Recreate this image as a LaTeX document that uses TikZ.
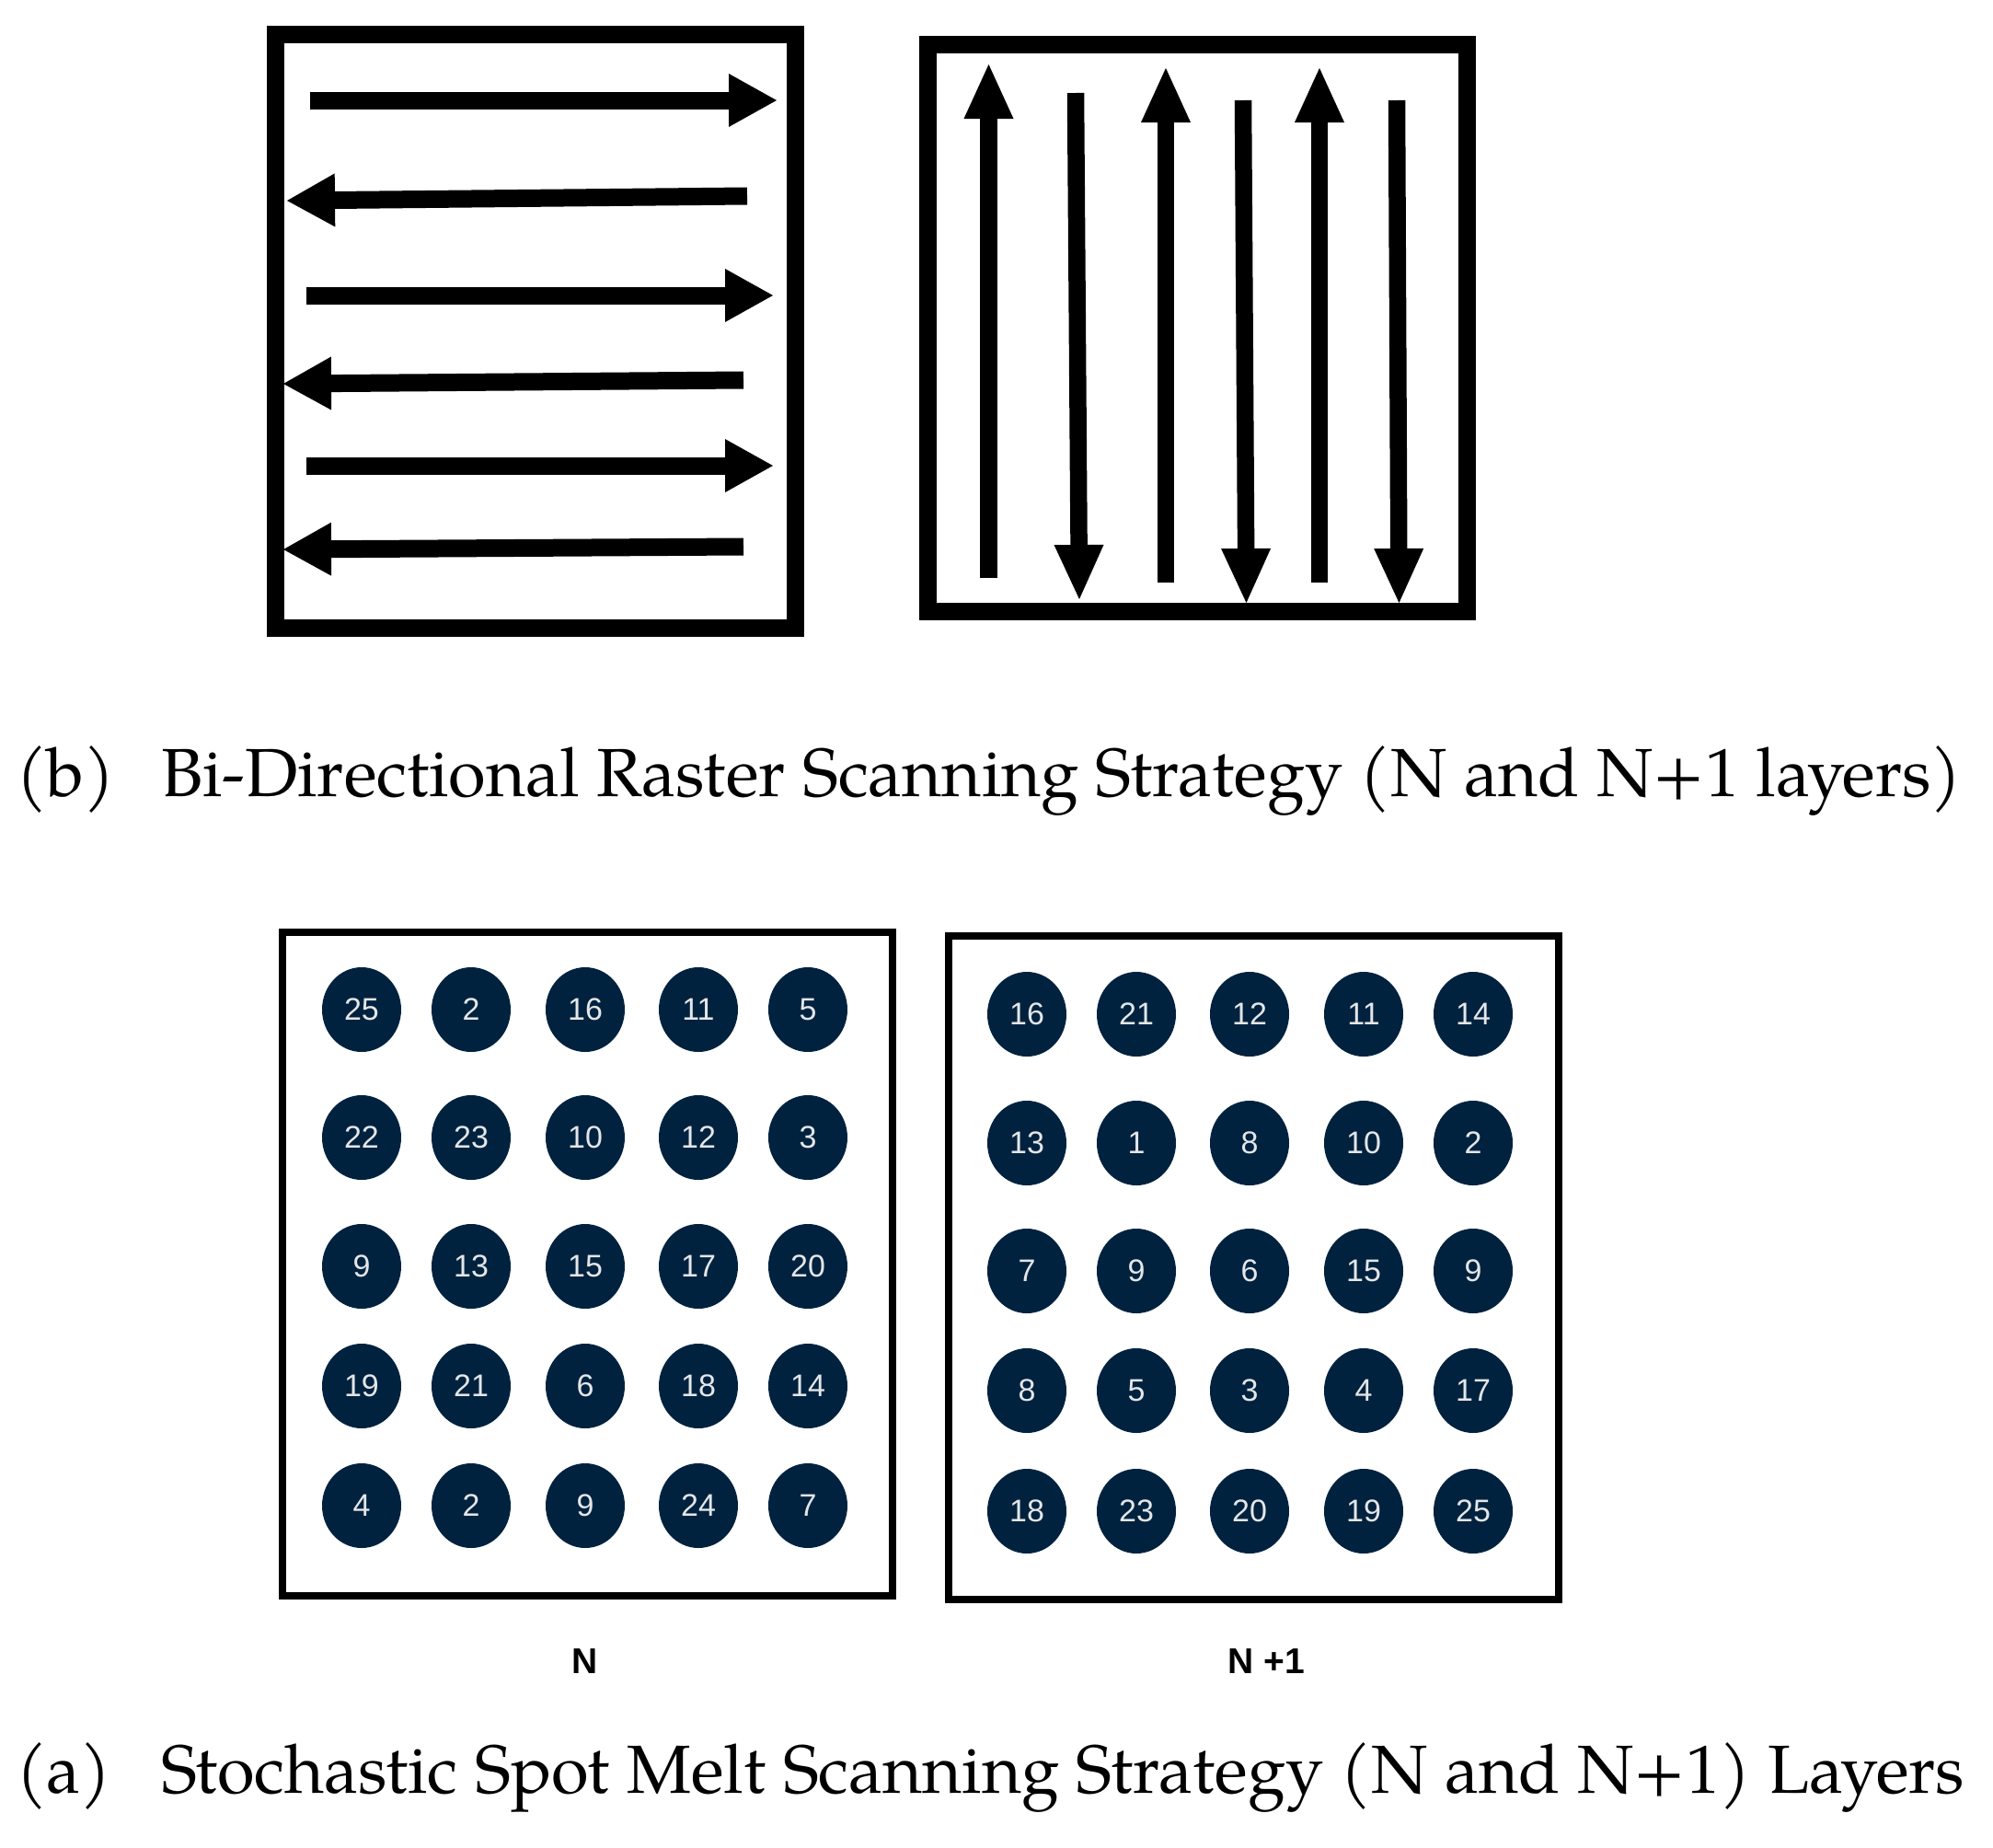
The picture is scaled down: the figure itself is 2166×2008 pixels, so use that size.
\documentclass[tikz,border=0pt]{standalone}
\usepackage{fontspec}
\setmainfont{TeX Gyre Pagella}
\newfontfamily\numfont{Liberation Sans}
\usetikzlibrary{calc,shapes.geometric}
\definecolor{spotnavy}{HTML}{00223F}
\definecolor{spottext}{HTML}{E4E6E8}
\tikzset{
  thickframe/.style={line width=19pt, draw=black},
  thinframe/.style={line width=8pt, draw=black},
  spot/.style={ellipse, fill=spotnavy, inner sep=0pt, minimum width=86pt, minimum height=92pt, text=spottext, font=\numfont\fontsize{34}{34}\selectfont},
  layerlabel/.style={font=\numfont\bfseries\fontsize{39}{39}\selectfont, anchor=base, inner sep=0pt},
  captext/.style={font=\fontsize{74}{82}\selectfont, anchor=base west, inner sep=0pt},
}
% #1 head length, #2 head half width, #3 shaft width, #4 tail, #5 tip
\newcommand{\scanarrow}[5]{%
  \coordinate (ta) at #4; \coordinate (ti) at #5;
  \coordinate (hb) at ($(ti)!#1!(ta)$);
  \draw[line width=#3, line cap=butt] (ta) -- ($(hb)!2pt!(ti)$);
  \fill ($(hb)!#2!90:(ti)$) -- (ti) -- ($(hb)!#2!-90:(ti)$) -- cycle;
}
\begin{document}
\begin{tikzpicture}[x=1pt,y=-1pt]
\useasboundingbox[fill=white] (0,0) rectangle (2166,2008);

% ---- (b) raster boxes
\draw[thickframe] (299,37) rectangle (864,682);
\draw[thickframe] (1008.5,48) rectangle (1594.5,664.5);

\scanarrow{52pt}{29pt}{19pt}{(337,109)}{(844,109)}
\scanarrow{52pt}{29pt}{19pt}{(812,213)}{(312,218)}
\scanarrow{52pt}{29pt}{19pt}{(333,321)}{(840,321)}
\scanarrow{52pt}{29pt}{19pt}{(808,413)}{(308,417)}
\scanarrow{52pt}{29pt}{19pt}{(333,506)}{(840,506)}
\scanarrow{52pt}{29pt}{19pt}{(808,594)}{(308,597)}

\scanarrow{59pt}{27pt}{18.5pt}{(1074.5,628)}{(1074.5,70)}
\scanarrow{59pt}{27pt}{18.5pt}{(1169,101)}{(1173,651)}
\scanarrow{59pt}{27pt}{18.5pt}{(1267,633)}{(1267,74)}
\scanarrow{59pt}{27pt}{18.5pt}{(1351,109)}{(1354.5,655)}
\scanarrow{59pt}{27pt}{18.5pt}{(1434,633)}{(1434,74)}
\scanarrow{59pt}{27pt}{18.5pt}{(1518,109)}{(1520.5,655)}

\node[captext] (capbtag) at (17,865) {(b)};
\node[captext] (capb) at (175,865) {Bi-Directional Raster Scanning Strategy (N and N+1 layers)};

% ---- (a) spot melt boxes
\draw[thinframe] (307,1012.5) rectangle (969.5,1734);
\draw[thinframe] (1031,1017) rectangle (1694,1738);

\foreach \yy/\nums [count=\r] in {1097/{25,2,16,11,5},1236/{22,23,10,12,3},1376/{9,13,15,17,20},1506/{19,21,6,18,14},1636/{4,2,9,24,7}}{
  \foreach \n [count=\c] in \nums {
    \pgfmathsetmacro\xx{{393,512,636,759,878}[\c-1]}
    \node[spot] (L-\r-\c) at (\xx,\yy) {\n};
  }
}
\foreach \yy/\nums [count=\r] in {1102/{16,21,12,11,14},1242/{13,1,8,10,2},1381/{7,9,6,15,9},1511/{8,5,3,4,17},1642/{18,23,20,19,25}}{
  \foreach \n [count=\c] in \nums {
    \pgfmathsetmacro\xx{{1116,1235,1358,1482,1601}[\c-1]}
    \node[spot] (R-\r-\c) at (\xx,\yy) {\n};
  }
}

\node[layerlabel] (labN) at (636,1818) {N};
\node[layerlabel] (labN1) at (1376,1818) {N +1};

\node[captext] (capatag) at (17,1948) {(a)};
\node[captext] (capa) at (175,1948) {Stochastic Spot Melt Scanning Strategy (N and N+1) Layers};
\end{tikzpicture}
\end{document}
